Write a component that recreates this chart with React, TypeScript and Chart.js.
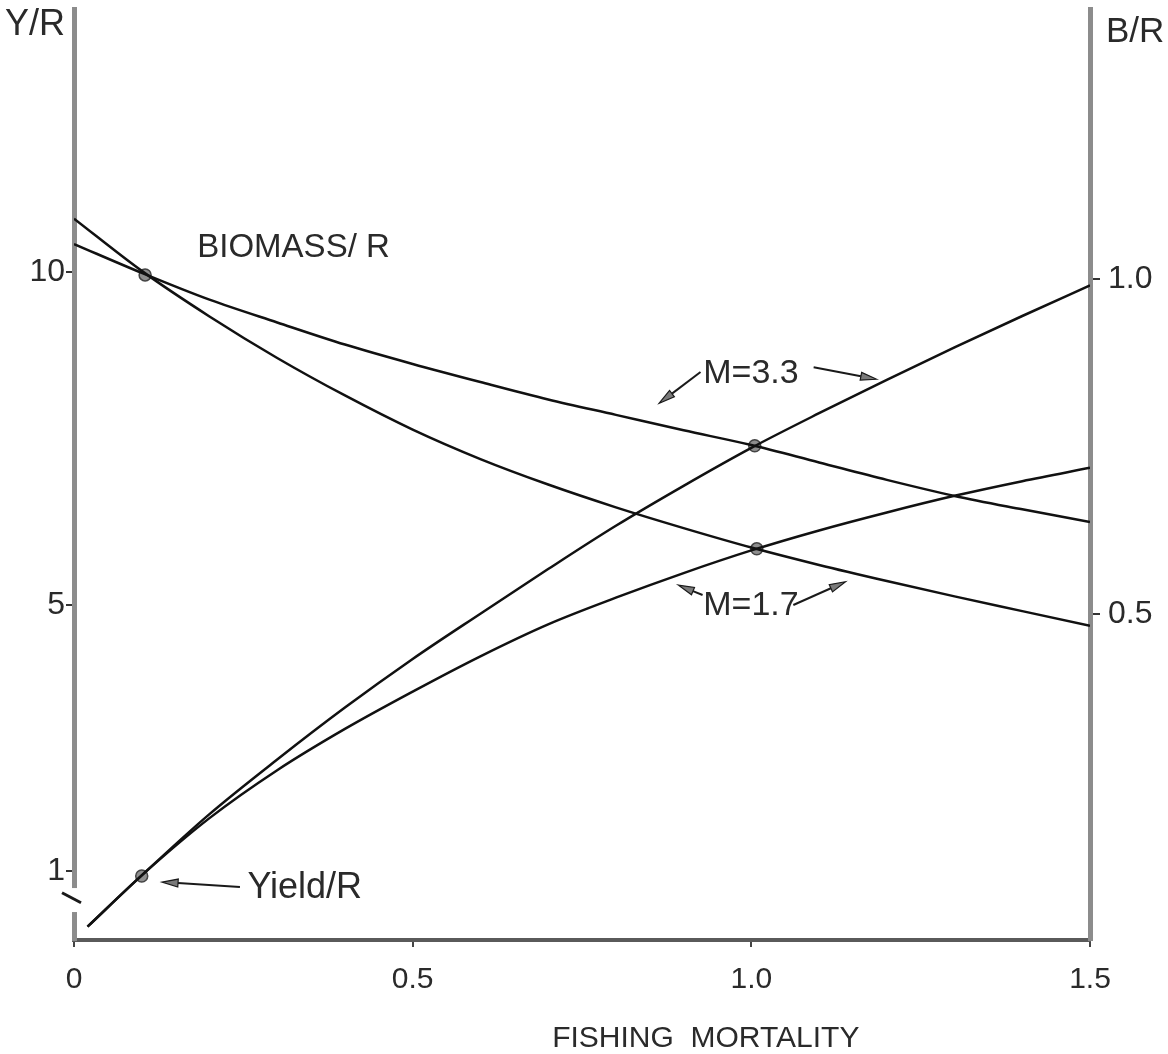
import React, { useEffect, useRef } from 'react';
import { Chart, registerables } from 'chart.js';

Chart.register(...registerables);

// ---- data ----
const fishingMortality = [0, 0.1, 0.2, 0.3, 0.4, 0.5, 0.6, 0.7, 0.8, 0.9, 1.0, 1.1, 1.2, 1.3, 1.4, 1.5];
const biomassM17 = [1.09, 1.012, 0.944, 0.882, 0.826, 0.775, 0.731, 0.693, 0.659, 0.628, 0.599, 0.573, 0.549, 0.526, 0.504, 0.482];
const biomassM33 = [1.052, 1.009, 0.969, 0.935, 0.902, 0.873, 0.846, 0.82, 0.797, 0.774, 0.752, 0.726, 0.7, 0.676, 0.656, 0.637];

const yieldMortality = [0.02, 0.1, 0.2, 0.3, 0.4, 0.5, 0.6, 0.7, 0.8, 0.9, 1.0, 1.1, 1.2, 1.3, 1.4, 1.5];
const yieldM33 = [0.17, 0.94, 1.86, 2.68, 3.46, 4.19, 4.87, 5.54, 6.19, 6.79, 7.36, 7.88, 8.38, 8.87, 9.34, 9.8];
const yieldM17 = [0.17, 0.94, 1.8, 2.52, 3.14, 3.7, 4.23, 4.71, 5.11, 5.48, 5.82, 6.12, 6.39, 6.64, 6.86, 7.06];

const yieldDotF = [0.1];
const yieldDotValues = [0.93];
const biomassDotF = [0.105, 1.005, 1.008];
const biomassDotValues = [1.006, 0.751, 0.597];

const xTickValues = [0, 0.5, 1.0, 1.5];
const xTickLabels = ['0', '0.5', '1.0', '1.5'];
const yTickValues = [1, 5, 10];
const yTickLabels = ['1', '5', '10'];
const y1TickValues = [0.5, 1.0];
const y1TickLabels = ['0.5', '1.0'];

const xRange = [0, 1.5];
const yRange = [-0.03, 13.95];
const y1Range = [0.013, 1.403];

const FONT = "'Liberation Sans', Arial, sans-serif";
const INK = '#2a2a2a';

// annotation texts (data coords on x / left y)
const notes = [
  { text: 'BIOMASS/ R', x: 0.182, y: 10.23, size: 33 },
  { text: 'Yield/R', x: 0.256, y: 0.6, size: 36 },
  { text: 'M=3.3', x: 0.929, y: 8.33, size: 34 },
  { text: 'M=1.7', x: 0.929, y: 4.85, size: 34 },
];
// arrows: tail -> tip (data coords on x / left y)
const arrows = [
  { x1: 0.245, y1: 0.766, x2: 0.13, y2: 0.84 },
  { x1: 0.925, y1: 8.5, x2: 0.864, y2: 8.03 },
  { x1: 1.092, y1: 8.57, x2: 1.185, y2: 8.39 },
  { x1: 0.928, y1: 5.15, x2: 0.892, y2: 5.3 },
  { x1: 1.062, y1: 5.0, x2: 1.139, y2: 5.35 },
];

const pts = (xs: number[], ys: number[]) => xs.map((x, i) => ({ x, y: ys[i] }));

function drawArrow(ctx: CanvasRenderingContext2D, x1: number, y1: number, x2: number, y2: number) {
  const a = Math.atan2(y2 - y1, x2 - x1);
  const L = 16;
  const W = 4;
  const bx = x2 - Math.cos(a) * L;
  const by = y2 - Math.sin(a) * L;
  ctx.save();
  ctx.strokeStyle = '#1a1a1a';
  ctx.lineWidth = 2;
  ctx.beginPath();
  ctx.moveTo(x1, y1);
  ctx.lineTo(bx, by);
  ctx.stroke();
  ctx.beginPath();
  ctx.moveTo(x2, y2);
  ctx.lineTo(bx - Math.sin(a) * W, by + Math.cos(a) * W);
  ctx.lineTo(bx + Math.sin(a) * W, by - Math.cos(a) * W);
  ctx.closePath();
  ctx.fillStyle = '#7a7a7a';
  ctx.fill();
  ctx.lineWidth = 1.2;
  ctx.stroke();
  ctx.restore();
}

const annotationPlugin = {
  id: 'annotations',
  afterDraw(chart: any) {
    const { ctx, chartArea, scales } = chart;
    const xs = scales.x;
    const ys = scales.y;
    ctx.save();
    // axis break on the left axis
    const ax = chartArea.left;
    const gTop = ys.getPixelForValue(0.75);
    const gBot = ys.getPixelForValue(0.39);
    ctx.fillStyle = '#ffffff';
    ctx.fillRect(ax - 5, gTop, 10, gBot - gTop);
    ctx.strokeStyle = '#1a1a1a';
    ctx.lineWidth = 3;
    ctx.beginPath();
    ctx.moveTo(ax - 12, ys.getPixelForValue(0.68));
    ctx.lineTo(ax + 7, ys.getPixelForValue(0.53));
    ctx.stroke();

    // texts
    ctx.fillStyle = INK;
    ctx.textBaseline = 'alphabetic';
    ctx.textAlign = 'left';
    for (const n of notes) {
      ctx.font = `${n.size}px ${FONT}`;
      ctx.fillText(n.text, xs.getPixelForValue(n.x), ys.getPixelForValue(n.y));
    }
    for (const a of arrows) {
      drawArrow(ctx, xs.getPixelForValue(a.x1), ys.getPixelForValue(a.y1), xs.getPixelForValue(a.x2), ys.getPixelForValue(a.y2));
    }
    // axis titles
    ctx.fillStyle = INK;
    ctx.font = `36px ${FONT}`;
    ctx.textAlign = 'right';
    ctx.fillText('Y/R', chartArea.left - 9, chartArea.top + 26);
    ctx.font = `35px ${FONT}`;
    ctx.textAlign = 'left';
    ctx.fillText('B/R', chartArea.right + 16, chartArea.top + 33);
    ctx.font = `30px ${FONT}`;
    ctx.fillText('FISHING  MORTALITY', xs.getPixelForValue(0.706), chartArea.bottom + 107);
    ctx.restore();
  },
};

export default function App() {
  const ref = useRef<HTMLCanvasElement | null>(null);
  useEffect(() => {
    document.body.style.margin = '0';
    const canvas = ref.current;
    if (!canvas) return;
    const lineStyle = {
      borderColor: '#111111',
      borderWidth: 2.5,
      pointRadius: 0,
      fill: false,
      cubicInterpolationMode: 'monotone' as const,
    };
    const dotStyle = {
      type: 'scatter' as const,
      showLine: false,
      pointRadius: 6,
      pointBackgroundColor: '#8e8e8e',
      pointBorderColor: '#444444',
      pointBorderWidth: 1.5,
    };
    const chart = new Chart(canvas, {
      type: 'line',
      data: {
        datasets: [
          { label: 'Biomass/R M=1.7', data: pts(fishingMortality, biomassM17), yAxisID: 'y1', ...lineStyle },
          { label: 'Biomass/R M=3.3', data: pts(fishingMortality, biomassM33), yAxisID: 'y1', ...lineStyle },
          { label: 'Yield/R M=3.3', data: pts(yieldMortality, yieldM33), yAxisID: 'y', ...lineStyle },
          { label: 'Yield/R M=1.7', data: pts(yieldMortality, yieldM17), yAxisID: 'y', ...lineStyle },
          { label: 'yield points', data: pts(yieldDotF, yieldDotValues), yAxisID: 'y', ...dotStyle } as any,
          { label: 'biomass points', data: pts(biomassDotF, biomassDotValues), yAxisID: 'y1', ...dotStyle } as any,
        ],
      },
      options: {
        responsive: false,
        animation: false,
        devicePixelRatio: 1,
        layout: { padding: { top: 9, left: 0, right: 0, bottom: 0 } },
        plugins: { legend: { display: false }, tooltip: { enabled: false } },
        scales: {
          x: {
            type: 'linear',
            min: xRange[0],
            max: xRange[1],
            afterBuildTicks: (s: any) => { s.ticks = xTickValues.map((v) => ({ value: v })); },
            afterFit: (s: any) => { s.height = 114; },
            ticks: {
              callback: (v: any) => xTickLabels[xTickValues.indexOf(Number(v))] ?? '',
              font: { family: FONT, size: 30 },
              color: INK,
              padding: 15,
              maxRotation: 0,
              autoSkip: false,
            },
            grid: { display: true, drawOnChartArea: false, drawTicks: true, tickLength: 7, color: '#444', lineWidth: 2 },
            border: { display: true, color: '#5a5a5a', width: 4 },
          },
          y: {
            type: 'linear',
            position: 'left',
            min: yRange[0],
            max: yRange[1],
            afterBuildTicks: (s: any) => { s.ticks = yTickValues.map((v) => ({ value: v })); },
            afterFit: (s: any) => { s.width = 74; },
            ticks: {
              callback: (v: any) => yTickLabels[yTickValues.indexOf(Number(v))] ?? '',
              font: { family: FONT, size: 32, lineHeight: 0.01 },
              color: INK,
              padding: 1,
              autoSkip: false,
            },
            grid: { display: true, drawOnChartArea: false, drawTicks: true, tickLength: 8, color: '#333', lineWidth: 2 },
            border: { display: true, color: '#8c8c8c', width: 5 },
          },
          y1: {
            type: 'linear',
            position: 'right',
            min: y1Range[0],
            max: y1Range[1],
            afterBuildTicks: (s: any) => { s.ticks = y1TickValues.map((v) => ({ value: v })); },
            afterFit: (s: any) => { s.width = 78; },
            ticks: {
              callback: (v: any) => y1TickLabels[y1TickValues.indexOf(Number(v))] ?? '',
              font: { family: FONT, size: 32, lineHeight: 0.01 },
              color: INK,
              padding: 8,
              autoSkip: false,
            },
            grid: { display: true, drawOnChartArea: false, drawTicks: true, tickLength: 10, color: '#333', lineWidth: 2 },
            border: { display: true, color: '#8c8c8c', width: 5 },
          },
        },
      },
      plugins: [annotationPlugin],
    });
    return () => chart.destroy();
  }, []);
  return <canvas ref={ref} width={1168} height={1054} style={{ display: 'block' }} />;
}
